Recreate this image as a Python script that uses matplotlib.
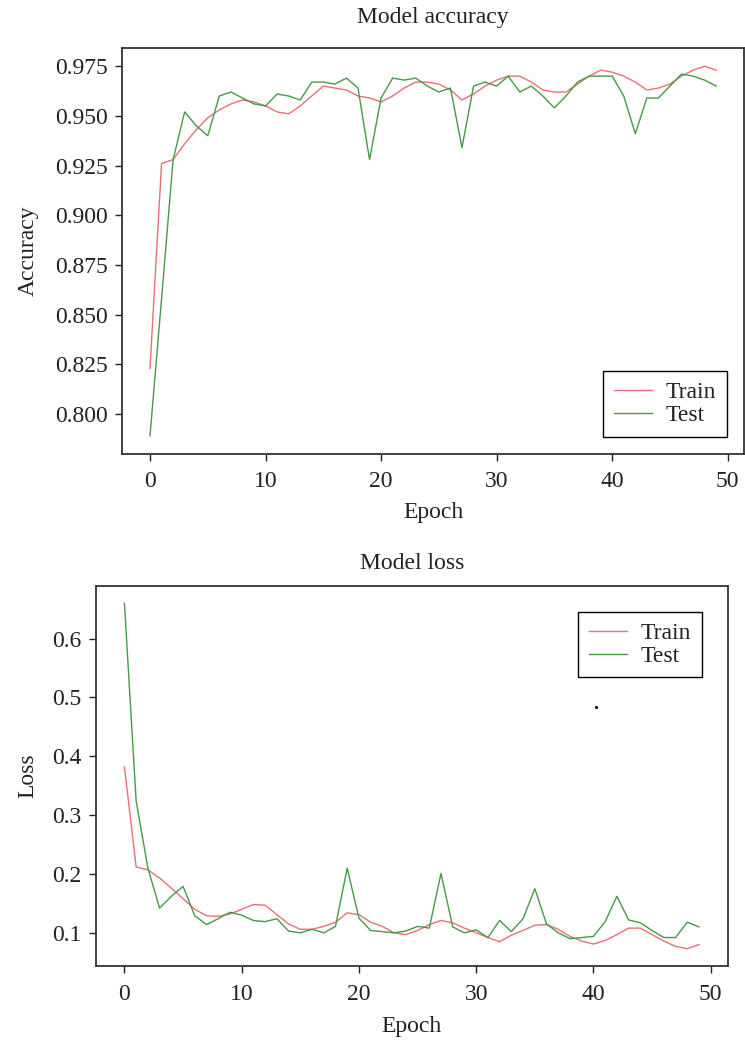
import matplotlib
matplotlib.use("Agg")
import matplotlib.pyplot as plt

epochs = list(range(50))

acc_train = [0.823, 0.926, 0.928, 0.936, 0.943, 0.949, 0.953, 0.956, 0.958, 0.957,
             0.955, 0.952, 0.951, 0.955, 0.960, 0.965, 0.964, 0.963, 0.960, 0.959,
             0.957, 0.960, 0.964, 0.967, 0.967, 0.966, 0.963, 0.958, 0.961, 0.965,
             0.968, 0.970, 0.970, 0.967, 0.963, 0.962, 0.962, 0.966, 0.970, 0.973,
             0.972, 0.970, 0.967, 0.963, 0.964, 0.966, 0.970, 0.973, 0.975, 0.973]
acc_test = [0.789, 0.858, 0.928, 0.952, 0.945, 0.940, 0.960, 0.962, 0.959, 0.956,
            0.955, 0.961, 0.960, 0.958, 0.967, 0.967, 0.966, 0.969, 0.964, 0.928,
            0.959, 0.969, 0.968, 0.969, 0.965, 0.962, 0.964, 0.934, 0.965, 0.967,
            0.965, 0.970, 0.962, 0.965, 0.960, 0.954, 0.960, 0.967, 0.970, 0.970,
            0.970, 0.960, 0.941, 0.959, 0.959, 0.965, 0.971, 0.970, 0.968, 0.965]

loss_train = [0.382, 0.212, 0.207, 0.193, 0.176, 0.158, 0.140, 0.129, 0.128, 0.132,
              0.140, 0.148, 0.147, 0.131, 0.115, 0.106, 0.106, 0.111, 0.118, 0.134,
              0.131, 0.118, 0.111, 0.100, 0.097, 0.104, 0.114, 0.121, 0.117, 0.108,
              0.100, 0.092, 0.085, 0.096, 0.104, 0.113, 0.114, 0.106, 0.094, 0.086,
              0.081, 0.087, 0.097, 0.108, 0.108, 0.097, 0.086, 0.077, 0.073, 0.080]
loss_test = [0.660, 0.324, 0.210, 0.142, 0.162, 0.179, 0.129, 0.114, 0.124, 0.135,
             0.130, 0.121, 0.119, 0.124, 0.103, 0.100, 0.106, 0.100, 0.111, 0.210,
             0.125, 0.104, 0.102, 0.100, 0.103, 0.111, 0.108, 0.201, 0.110, 0.100,
             0.105, 0.092, 0.121, 0.102, 0.124, 0.175, 0.115, 0.100, 0.090, 0.092,
             0.094, 0.119, 0.162, 0.122, 0.117, 0.104, 0.092, 0.092, 0.118, 0.110]

labels = ["Train", "Test"]
c_train = "#ea6f78"
c_test = "#469a46"

plt.rcParams["font.family"] = "Liberation Serif"
plt.rcParams["text.color"] = "#222222"
plt.rcParams["axes.labelcolor"] = "#222222"
plt.rcParams["xtick.color"] = "#222222"
plt.rcParams["ytick.color"] = "#222222"

fig = plt.figure(figsize=(7.45, 10.44), dpi=100)
W, H = 745.0, 1044.0


def make_axes(left, top, right, bottom):
    return fig.add_axes([left / W, 1 - bottom / H, (right - left) / W, (bottom - top) / H])


def style(ax, title, ylabel, loc, tpad, ylpad, xtpad, xlpad, legpad):
    ax.set_title(title, fontsize=17, pad=tpad)
    ax.set_xlabel("Epoch", fontsize=17, labelpad=xlpad)
    ax.set_ylabel(ylabel, fontsize=17, labelpad=ylpad)
    ax.tick_params(labelsize=17, length=5, width=1, pad=5)
    ax.tick_params(axis="x", pad=xtpad)
    for s in ax.spines.values():
        s.set_linewidth(1.3)
        s.set_color("#333333")
    leg = ax.legend(labels, loc=loc, fontsize=17, fancybox=False, edgecolor="black",
                    framealpha=1, borderpad=0.45, labelspacing=0.05,
                    handlelength=1.6, handletextpad=0.6, borderaxespad=legpad)
    leg.get_frame().set_linewidth(1.0)


ax1 = make_axes(121.7, 47.7, 744.5, 454.3)
ax1.plot(epochs, acc_train, color=c_train, lw=1.0)
ax1.plot(epochs, acc_test, color=c_test, lw=1.0)
ax1.set_xticks([0, 10, 20, 30, 40, 50])
ax1.set_yticks([0.800, 0.825, 0.850, 0.875, 0.900, 0.925, 0.950, 0.975])
style(ax1, "Model accuracy", "Accuracy", "lower right", 18, 12, 7, 7, 0.75)

ax2 = make_axes(95.7, 586, 727.7, 966)
ax2.plot(epochs, loss_train, color=c_train, lw=1.0)
ax2.plot(epochs, loss_test, color=c_test, lw=1.0)
ax2.plot([40.2], [0.484], marker=".", color="black", markersize=2.5)
ax2.set_xticks([0, 10, 20, 30, 40, 50])
ax2.set_yticks([0.1, 0.2, 0.3, 0.4, 0.5, 0.6])
style(ax2, "Model loss", "Loss", "upper right", 12, 10, 8, 8, 1.1)

fig.savefig("out.png", dpi=100)
